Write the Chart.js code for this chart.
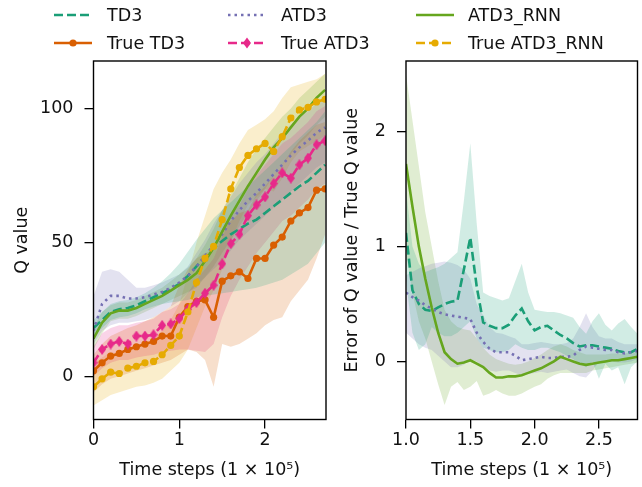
<!DOCTYPE html>
<html>
<head>
<meta charset="utf-8">
<script src="https://cdn.jsdelivr.net/npm/chart.js@4.4.1/dist/chart.umd.min.js"></script>
<style>
  body { margin: 0; background: #fff; font-family: "DejaVu Sans", sans-serif; }
  #wrap { position: relative; width: 642px; height: 487px; overflow: hidden; }
  #c1 { position: absolute; left: 0; top: 0; }
  #c2 { position: absolute; left: 340px; top: 0; }
  .leg { position: absolute; font-size: 17.5px; line-height: 22px; color: #111; white-space: nowrap; }
  .legline { position: absolute; }
</style>
</head>
<body>
<div id="wrap">
  <canvas id="c1" width="340" height="487"></canvas>
  <canvas id="c2" width="302" height="487"></canvas>
  <div id="legend"></div>
</div>
<script>
// ---- left panel: Q value vs time steps (x in 1e5) ----
const X1 = [0,0.1,0.2,0.3,0.4,0.5,0.6,0.7,0.8,0.9,1.0,1.1,1.2,1.3,1.4,1.5,1.6,1.7,1.8,1.9,2.0,2.1,2.2,2.3,2.4,2.5,2.6,2.7];

const td3      = [18,21,24,25,25.5,26.5,28,29.5,31,32.5,34.5,37.5,41,44.5,48,50.5,53,55,57,58.5,61,63.5,66,68.5,71,73,76,79];
const td3Lo    = [15,18,21,22,22.5,23.5,25,26,27,27.5,28,28.5,29.5,30,30.5,31,31.5,32,32.5,33,34,35,36,38,40,42,46,50];
const td3Hi    = [21,24,27,28,28.5,29.5,31,33,35.5,38.5,42,46.5,51,55,59,62,65,68,71,74,77,80,83,86,89,92,95,99];

const trueTd3   = [2,5,7.5,8.5,10,11,12,13,15,15,22,26,28,28.5,22,35.5,37.5,39,36.5,44,44,49,52,58,61,63,69.5,70];
const trueTd3Lo = [-6,-3,-1,0,1,2,3,4,5,6,8,10,9,6,-4,12,11,12,14,16,19,21,22,28,32,36,44,53];
const trueTd3Hi = [8,12,15,16.5,18,19,20.5,22,24,26,34,40,44,46,47,55,58,61,62,68,71,75,79,84,88,91,94,95];

const atd3     = [17,27,30,30,29,29,29.5,30.5,31.5,33,35,37.5,41,45,49,53,58,62,65.5,68.5,72,75.5,79,82.5,85.5,88,91,93];
const atd3Lo   = [12,17,19,20,20,20.5,21,22,24,26,28,31,34,37,40,43,47,51,54,57,60,63,66,69,72,75,78,80];
const atd3Hi   = [30,39,40,39,36,33,33,34,35,36.5,38,41,46,51,57,62,67,72,76,80,83,87,91,94,97,99,102,104];

const trueAtd3   = [5,10,12,13,12,15,15,15.5,19,19.5,21.5,25,27.5,31,34,42,49.5,53,60,64,67,72,76,74,79,81.5,86.5,88];
const trueAtd3Lo = [0,3,5,6,6,7,7.5,8,9,9.5,10,10,9.5,9,12,22,30,36,41,46,50,54,58,60,63,66,70,72];
const trueAtd3Hi = [11,16,18,19,19,20,20.5,21.5,24,25,27,31,36,40,44,52,60,64,70,75,79,83,87,89,92,95,99,101];

const rnn      = [14,20,23.5,24.5,24.5,25.5,27,28.5,30,32,34,36,38.5,43,48,54,60,65.5,71,76,81,85.5,89,93,97,100,104,107];
const rnnLo    = [10,16,20.5,21.5,21.5,22.5,24,25.5,27,28.5,30,31.5,33,37,41,46,51,56,61,65.5,70,75,79,83,87,90,94,97];
const rnnHi    = [18,24,26.5,27.5,27.5,28.5,30,31.5,33,35.5,38,40.5,44,49,55,62,68,74,80,85,89,93,97,100,104,107,110,113];

const trueRnn   = [-4,-1,1.5,1,3,3.7,5,5.5,8,11.5,15,24,35,44,48.5,58.5,70,78,82.5,85,87,84,89.5,96.5,99.5,100.5,102.5,103.5];
const trueRnnLo = [-11,-9,-7,-6,-5,-4,-3.5,-2.5,-1,2,5,10,18,26,32,40,50,58,64,67,70,69,74,80,84,86,88,90];
const trueRnnHi = [5,7,9,8.5,10,11,12.5,13.5,17,21,27,38,50,60,70,76,81,87,92,94,96,99,104,108,109,110,111,113];

// ---- right panel: error ratio ----
const X2 = [1.0,1.05,1.1,1.15,1.2,1.25,1.3,1.35,1.4,1.45,1.5,1.55,1.6,1.65,1.7,1.75,1.8,1.85,1.9,1.95,2.0,2.05,2.1,2.15,2.2,2.25,2.3,2.35,2.4,2.45,2.5,2.55,2.6,2.65,2.7,2.75,2.8];

const errTd3   = [1.12,0.62,0.50,0.45,0.44,0.47,0.50,0.52,0.53,0.80,1.08,0.65,0.34,0.31,0.29,0.29,0.32,0.40,0.46,0.35,0.27,0.30,0.31,0.27,0.23,0.20,0.16,0.13,0.14,0.14,0.13,0.12,0.11,0.09,0.08,0.08,0.11];
const errTd3Lo = [0.7,0.25,0.10,0.15,0.3,0.25,0.22,0.22,0.25,0.3,0.35,0.2,0.12,0.1,0.08,0.08,0.1,0.15,0.12,0.1,0.1,0.12,0.12,0.1,0.08,0.05,0.02,-0.02,-0.05,0.0,-0.15,-0.02,-0.08,-0.05,-0.2,-0.05,0.0];
const errTd3Hi = [1.5,1.0,0.85,0.78,0.8,0.82,0.85,0.9,0.95,1.4,1.9,1.2,0.6,0.57,0.55,0.53,0.55,0.7,0.85,0.6,0.45,0.44,0.43,0.43,0.42,0.40,0.38,0.30,0.24,0.35,0.42,0.32,0.27,0.33,0.37,0.30,0.24];

const errAtd3   = [0.60,0.56,0.53,0.49,0.46,0.43,0.41,0.40,0.39,0.38,0.37,0.25,0.17,0.11,0.08,0.08,0.08,0.05,0.01,0.02,0.03,0.04,0.03,0.03,0.04,0.04,0.05,0.10,0.13,0.12,0.11,0.10,0.10,0.08,0.07,0.08,0.09];
const errAtd3Lo = [0.25,0.2,0.15,0.12,0.1,0.05,0.0,-0.05,-0.05,-0.03,0.02,0.0,-0.05,-0.08,-0.09,-0.08,-0.08,-0.1,-0.12,-0.11,-0.1,-0.09,-0.1,-0.09,-0.08,-0.07,-0.1,-0.13,-0.14,-0.08,0.0,-0.01,0.0,-0.01,-0.01,0.0,0.02];
const errAtd3Hi = [0.75,0.78,0.81,0.83,0.85,0.86,0.87,0.86,0.84,0.8,0.72,0.5,0.4,0.3,0.25,0.24,0.22,0.2,0.15,0.15,0.16,0.17,0.16,0.15,0.15,0.16,0.2,0.3,0.42,0.3,0.22,0.2,0.2,0.17,0.15,0.15,0.15];

const errRnn   = [1.72,1.35,1.00,0.72,0.47,0.25,0.08,0.02,-0.02,-0.01,0.01,-0.02,-0.05,-0.10,-0.14,-0.14,-0.13,-0.13,-0.12,-0.10,-0.08,-0.06,-0.03,0.00,0.04,0.02,0.00,-0.02,-0.03,-0.02,-0.01,0.00,0.01,0.01,0.02,0.03,0.04];
const errRnnLo = [0.95,0.6,0.35,0.2,0.0,-0.2,-0.38,-0.22,-0.18,-0.25,-0.22,-0.17,-0.3,-0.28,-0.25,-0.28,-0.3,-0.3,-0.28,-0.25,-0.22,-0.2,-0.15,-0.12,-0.1,-0.1,-0.1,-0.1,-0.1,-0.08,-0.07,-0.06,-0.05,-0.04,-0.03,-0.02,-0.01];
const errRnnHi = [2.5,2.1,1.7,1.3,1.0,0.7,0.45,0.35,0.3,0.28,0.27,0.2,0.12,0.06,0.02,0.0,-0.02,-0.03,-0.02,0.0,0.03,0.06,0.1,0.13,0.15,0.13,0.1,0.08,0.06,0.06,0.06,0.06,0.07,0.07,0.07,0.08,0.08];

const x1Ticks = [0, 1, 2];
const y1Ticks = [0, 50, 100];
const x2Ticks = [1.0, 1.5, 2.0, 2.5];
const y2Ticks = [0, 1, 2];

const FONT = { family: 'DejaVu Sans', size: 17.5 };

// Dark2 colours
const C = {
  teal: [27,158,119], orange: [217,95,2], purple: [117,112,179],
  pink: [231,41,138], green: [102,166,30], yellow: [230,171,2]
};
const rgb = (c, a = 1) => `rgba(${c[0]},${c[1]},${c[2]},${a})`;

// thin diamond marker for True ATD3
function thinDiamond(w, h, col) {
  const cv = document.createElement('canvas');
  cv.width = w; cv.height = h;
  const g = cv.getContext('2d');
  g.fillStyle = col;
  g.beginPath(); g.moveTo(w / 2, 0); g.lineTo(w, h / 2); g.lineTo(w / 2, h); g.lineTo(0, h / 2); g.closePath(); g.fill();
  return cv;
}
const diamond = thinDiamond(8, 11, rgb(C.pink));

const STYLE = {
  'TD3':           { col: C.teal,   dash: [9, 4],   marker: null },
  'True TD3':      { col: C.orange, dash: [],       marker: 'circle' },
  'ATD3':          { col: C.purple, dash: [2.5, 4], marker: null },
  'True ATD3':     { col: C.pink,   dash: [9, 4],   marker: diamond },
  'ATD3_RNN':      { col: C.green,  dash: [],       marker: null },
  'True ATD3_RNN': { col: C.yellow, dash: [9, 4],   marker: 'circle' }
};

const pts = (xs, ys) => xs.map((x, i) => ({ x, y: ys[i] }));

function buildDatasets(xs, series) {
  const bands = [], lines = [];
  series.forEach(([name, mean, lo, hi], k) => {
    const st = STYLE[name];
    const upIdx = bands.length;
    bands.push({ data: pts(xs, hi), borderColor: 'transparent', borderWidth: 0, pointRadius: 0, fill: false, order: 1000 });
    bands.push({ data: pts(xs, lo), borderColor: 'transparent', borderWidth: 0, pointRadius: 0,
                 fill: { target: upIdx }, backgroundColor: rgb(st.col, 0.2), order: 1000 });
    lines.push({
      label: name, data: pts(xs, mean), borderColor: rgb(st.col), borderWidth: 2.6, borderDash: st.dash,
      borderCapStyle: 'butt', fill: false, tension: 0, order: 100 - k,
      pointRadius: st.marker ? (st.marker === 'circle' ? 3.6 : 5.5) : 0,
      pointStyle: st.marker || 'circle', pointBackgroundColor: rgb(st.col), pointBorderWidth: 0
    });
  });
  return bands.concat(lines);
}

const boxPlugin = {
  id: 'box',
  afterDraw(c) {
    const { ctx, chartArea: a } = c;
    ctx.save(); ctx.strokeStyle = '#000'; ctx.lineWidth = 1.4;
    ctx.strokeRect(a.left, a.top, a.right - a.left, a.bottom - a.top);
    ctx.restore();
  }
};

function axis(opts) {
  return {
    type: 'linear', min: opts.min, max: opts.max,
    afterBuildTicks: s => { s.ticks = opts.ticks.map(v => ({ value: v })); },
    afterFit: s => { if (opts.width) s.width = opts.width; if (opts.height) s.height = opts.height; },
    grid: { drawOnChartArea: false, drawTicks: true, tickLength: 9, color: '#000', lineWidth: 1.3 },
    border: { display: false },
    ticks: { font: FONT, color: '#111', padding: opts.tickPad, callback: opts.fmt || (v => v) },
    title: { display: true, text: opts.title, font: FONT, color: '#111', padding: opts.titlePad }
  };
}

function makeChart(id, datasets, xOpt, yOpt, padRight) {
  return new Chart(document.getElementById(id), {
    type: 'line',
    data: { datasets },
    options: {
      responsive: false, animation: false, devicePixelRatio: 1,
      layout: { padding: { left: 0, top: 61, right: padRight, bottom: 0 } },
      plugins: { legend: { display: false }, tooltip: { enabled: false }, filler: { propagate: false, drawTime: 'beforeDatasetsDraw' } },
      scales: { x: axis(xOpt), y: axis(yOpt) }
    },
    plugins: [boxPlugin]
  });
}

makeChart('c1', buildDatasets(X1, [
    ['TD3', td3, td3Lo, td3Hi],
    ['True TD3', trueTd3, trueTd3Lo, trueTd3Hi],
    ['ATD3', atd3, atd3Lo, atd3Hi],
    ['True ATD3', trueAtd3, trueAtd3Lo, trueAtd3Hi],
    ['ATD3_RNN', rnn, rnnLo, rnnHi],
    ['True ATD3_RNN', trueRnn, trueRnnLo, trueRnnHi]
  ]),
  { min: 0, max: 2.71, ticks: x1Ticks, height: 67.5, tickPad: 1, title: 'Time steps (1 × 10⁵)', titlePad: { top: 0, bottom: 6.5 } },
  { min: -16.2, max: 117.8, ticks: y1Ticks, width: 93.5, tickPad: 11, title: 'Q value', titlePad: { top: 11.5, bottom: 0 } },
  14);

makeChart('c2', buildDatasets(X2, [
    ['TD3', errTd3, errTd3Lo, errTd3Hi],
    ['ATD3', errAtd3, errAtd3Lo, errAtd3Hi],
    ['ATD3_RNN', errRnn, errRnnLo, errRnnHi]
  ]),
  { min: 1.0, max: 2.8, ticks: x2Ticks, height: 67.5, tickPad: 1, fmt: v => v.toFixed(1), title: 'Time steps (1 × 10⁵)', titlePad: { top: 0, bottom: 6.5 } },
  { min: -0.506, max: 2.617, ticks: y2Ticks, width: 66, tickPad: 11, title: 'Error of Q value / True Q value', titlePad: { top: 1.5, bottom: 0 } },
  4.5);

// legend: 3 columns x 2 rows, drawn as html + svg samples
const legendCols = [
  { lineX: 54, textX: 107, items: ['TD3', 'True TD3'] },
  { lineX: 228, textX: 281, items: ['ATD3', 'True ATD3'] },
  { lineX: 416, textX: 468, items: ['ATD3_RNN', 'True ATD3_RNN'] }
];
const legendRows = [15, 43];
let html = '';
legendCols.forEach(col => col.items.forEach((name, r) => {
  const st = STYLE[name], cy = legendRows[r], c = rgb(st.col);
  let mk = '';
  if (st.marker === 'circle') mk = `<circle cx="19" cy="7" r="3.6" fill="${c}"/>`;
  else if (st.marker) mk = `<polygon points="19,1.5 23,7 19,12.5 15,7" fill="${c}"/>`;
  html += `<svg class="legline" style="left:${col.lineX}px;top:${cy - 7}px" width="38" height="14">
      <line x1="0" y1="7" x2="38" y2="7" stroke="${c}" stroke-width="2.6" stroke-dasharray="${st.dash.join(' ') || 'none'}"/>${mk}</svg>`;
  html += `<div class="leg" style="left:${col.textX}px;top:${cy - 11}px">${name}</div>`;
}));
document.getElementById('legend').innerHTML = html;
</script>
</body>
</html>
